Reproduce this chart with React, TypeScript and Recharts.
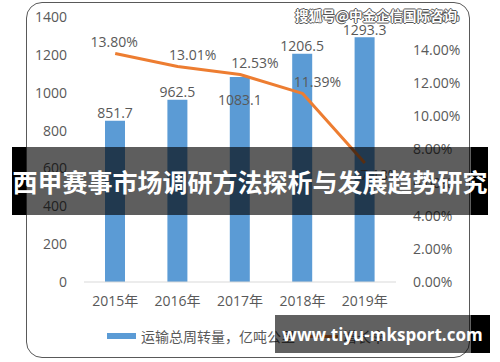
import { Bar, ComposedChart, LabelList, Line, XAxis, YAxis } from "recharts";

const years = ["2015年", "2016年", "2017年", "2018年", "2019年"];
const turnover = [851.7, 962.5, 1083.1, 1206.5, 1293.3];
const growth = [13.8, 13.01, 12.53, 11.39, 7.18];
const leftTicks = [0, 200, 400, 600, 800, 1000, 1200, 1400];
const rightTicks = [0, 2, 4, 6, 8, 10, 12, 14, 16];

const data = years.map((year, i) => ({
  year,
  turnover: turnover[i],
  growth: growth[i],
}));

const FONT = "'Open Sans', 'Noto Sans CJK SC', sans-serif";
const TEXT = "#595959";
const BLUE = "#5B9BD5";
const ORANGE = "#ED7D31";

const tickStyle = { fill: TEXT, fontSize: 14, fontFamily: FONT };

const BarValue = (props: any) => {
  const { x, y, width, value, index } = props;
  // the 2017 label sits inside the bar, out of the way of the line label
  const cy = index === 2 ? y + 23 : y - 8;
  return (
    <text
      x={x + width / 2}
      y={cy}
      textAnchor="middle"
      dominantBaseline="central"
      fill={TEXT}
      fontSize={14}
      fontFamily={FONT}
    >
      {value}
    </text>
  );
};

const GrowthValue = (props: any) => {
  const { x, y, value, index } = props;
  const last = index === growth.length - 1;
  const dx = index === 0 ? -1 : 15;
  const dy = last ? 11 : -12;
  return (
    <text
      x={x + dx}
      y={y + dy}
      textAnchor="middle"
      dominantBaseline="central"
      fill={TEXT}
      fontSize={14}
      fontFamily={FONT}
    >
      {`${Number(value).toFixed(2)}%`}
    </text>
  );
};

export default function App() {
  return (
    <div
      style={{
        position: "absolute",
        left: 0,
        top: 0,
        width: 500,
        height: 362,
        background: "#fff",
        overflow: "hidden",
      }}
    >
      <div
        style={{
          position: "absolute",
          left: 26,
          top: 2,
          width: 442,
          height: 354,
          border: "1.5px solid #595959",
          borderRadius: 16,
        }}
      />
      <div style={{ position: "absolute", left: 0, top: 0 }}>
        <ComposedChart
          width={500}
          height={362}
          data={data}
          margin={{ top: 17, left: 24, right: 34, bottom: 50 }}
        >
          <XAxis
            dataKey="year"
            tick={tickStyle}
            tickLine={false}
            tickSize={0}
            tickMargin={14}
            axisLine={{ stroke: "#D9D9D9" }}
            height={30}
          />
          <YAxis
            yAxisId="left"
            domain={[0, 1400]}
            ticks={leftTicks}
            tick={tickStyle}
            tickLine={false}
            axisLine={false}
            tickSize={0}
            tickMargin={17}
            width={60}
          />
          <YAxis
            yAxisId="right"
            orientation="right"
            domain={[0, 16]}
            ticks={rightTicks}
            tick={tickStyle}
            tickFormatter={(v) => `${Number(v).toFixed(2)}%`}
            tickLine={false}
            axisLine={false}
            tickSize={0}
            tickMargin={17}
            width={70}
          />
          <Bar
            yAxisId="left"
            dataKey="turnover"
            fill={BLUE}
            barSize={20}
            isAnimationActive={false}
          >
            <LabelList dataKey="turnover" content={BarValue} />
          </Bar>
          <Line
            yAxisId="right"
            type="linear"
            dataKey="growth"
            stroke={ORANGE}
            strokeWidth={3}
            strokeLinejoin="round"
            dot={false}
            isAnimationActive={false}
          >
            <LabelList dataKey="growth" content={GrowthValue} />
          </Line>
        </ComposedChart>
      </div>

      {/* legend */}
      <div
        style={{
          position: "absolute",
          left: 107,
          top: 326,
          height: 20,
          display: "flex",
          alignItems: "center",
          fontFamily: FONT,
          fontSize: 14,
          color: TEXT,
          whiteSpace: "nowrap",
        }}
      >
        <span style={{ width: 29, height: 6, background: BLUE, marginRight: 5 }} />
        <span>运输总周转量，亿吨公里</span>
        <span
          style={{ width: 29, height: 3, background: ORANGE, margin: "0 5px 0 14px" }}
        />
        <span>增长率</span>
      </div>

      {/* watermark top */}
      <div
        style={{
          position: "absolute",
          left: 295,
          top: 5,
          fontFamily: "'Noto Sans CJK SC', sans-serif",
          fontSize: 13.5,
          fontWeight: 700,
          color: "#fff",
          whiteSpace: "nowrap",
          lineHeight: "20px",
          textShadow:
            "1px 0 0 #555, -1px 0 0 #555, 0 1px 0 #555, 0 -1px 0 #555",
        }}
      >
        搜狐号@中金企信国际咨询
      </div>

      {/* title banner: black edges, translucent over the chart */}
      <div
        style={{
          position: "absolute",
          left: 12,
          top: 147,
          width: 14,
          height: 68,
          background: "#000",
        }}
      />
      <div
        style={{
          position: "absolute",
          left: 471,
          top: 147,
          width: 17,
          height: 68,
          background: "#000",
        }}
      />
      <div
        style={{
          position: "absolute",
          left: 26,
          top: 147,
          width: 445,
          height: 68,
          background: "rgba(0,0,0,0.63)",
        }}
      />
      <div
        style={{
          position: "absolute",
          left: 12,
          top: 147,
          width: 476,
          height: 68,
          display: "flex",
          alignItems: "center",
          justifyContent: "center",
          fontFamily: "'Noto Sans CJK SC', sans-serif",
          fontWeight: 700,
          fontSize: 25,
          color: "#fff",
          whiteSpace: "nowrap",
        }}
      >
        西甲赛事市场调研方法探析与发展趋势研究
      </div>

      {/* site box bottom */}
      <div
        style={{
          position: "absolute",
          left: 275,
          top: 315,
          width: 196,
          height: 38,
          background: "rgba(0,0,0,0.62)",
        }}
      />
      <div
        style={{
          position: "absolute",
          left: 471,
          top: 315,
          width: 19,
          height: 38,
          background: "#000",
        }}
      />
      <div
        style={{
          position: "absolute",
          left: 275,
          top: 315,
          width: 215,
          height: 38,
          display: "flex",
          alignItems: "center",
          justifyContent: "center",
          fontFamily: "'Open Sans', sans-serif",
          fontWeight: 700,
          fontSize: 17,
          color: "#fff",
          whiteSpace: "nowrap",
        }}
      >
        www.tiyu-mksport.com
      </div>
    </div>
  );
}
